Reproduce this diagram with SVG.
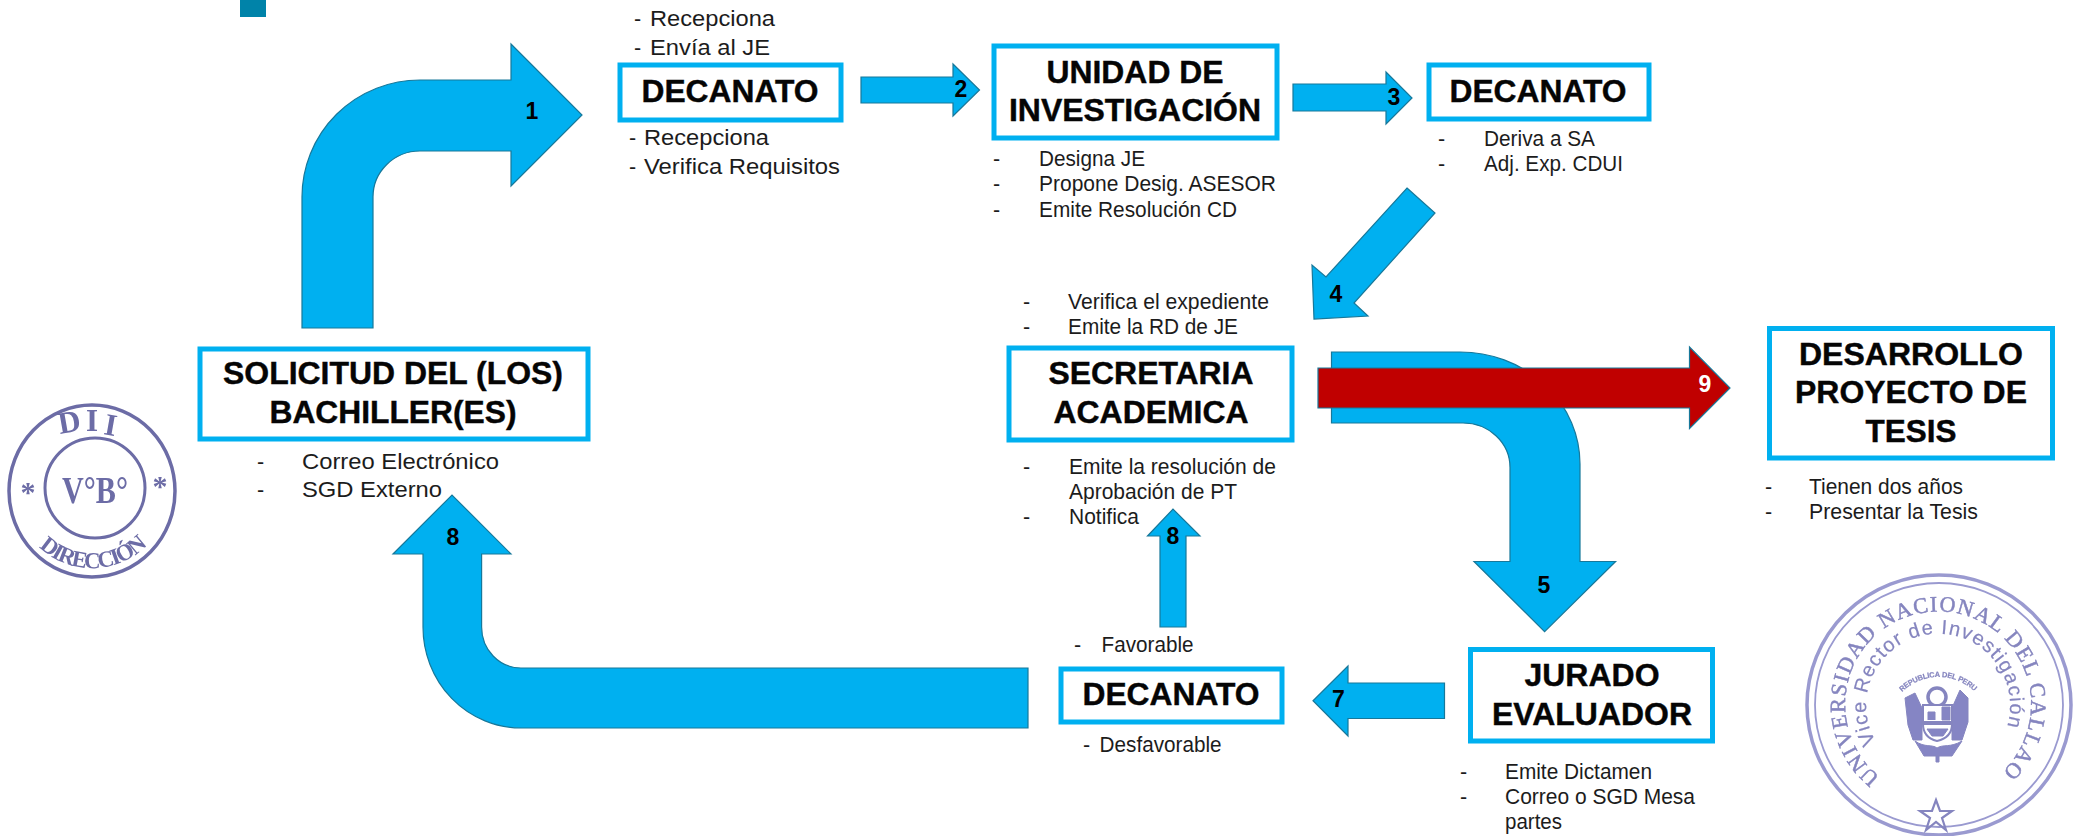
<svg xmlns="http://www.w3.org/2000/svg" width="2073" height="836" viewBox="0 0 2073 836">
<style>
text{font-family:"Liberation Sans",Arial,sans-serif;fill:#000}
.box{fill:#fff;stroke:#00B0F0;stroke-width:5}
.t{font-weight:700;font-size:31px;text-anchor:middle;fill:#050505;stroke:#050505;stroke-width:.4}
.s{font-size:21.5px;fill:#1c1c1c}
.n{font-weight:700;font-size:23px;text-anchor:middle}
.a{fill:#00B0F0;stroke:#17789a;stroke-width:1.2;stroke-linejoin:miter}
.r{fill:#C00000;stroke:#17789a;stroke-width:1.2}
.st1{fill:none;stroke:#6c6ca6}
.st1t{font-family:"Liberation Serif",serif;font-weight:700;fill:#6c6ca6}
.st2{fill:none;stroke:#9a9ad0}
.st2t{font-family:"Liberation Serif",serif;fill:#8585bf;stroke:#8585bf;stroke-width:.5}
.st2s{font-family:"Liberation Sans",sans-serif;fill:#8585bf;stroke:#8585bf;stroke-width:.2}
</style>
<defs>
<path id="arc-dir" d="M39 547A77 77 0 0 0 149 543"/>
<path id="arc-un" d="M1880 777A93 93 0 1 1 1995 778"/>
<path id="arc-vr" d="M1876 742A72 72 0 1 1 2003 737"/>
<path id="arc-rp" d="M1902 692A52 52 0 0 1 1973 690"/>
<filter id="soft" x="-5%" y="-5%" width="110%" height="110%"><feGaussianBlur stdDeviation="0.6"/></filter>
</defs>
<rect width="2073" height="836" fill="#fff"/>
<rect id="corner-square" x="240" y="0" width="26" height="17" fill="#0083A9"/>

<g id="connectors">
<path class="a" d="M302 328V197A118 117 0 0 1 420 80H511V44L582 115L511 186V151H420A47 46 0 0 0 373 197V328Z"/>
<path class="a" d="M861 77H953V64L979.500 90L953 116V103H861Z"/>
<path class="a" d="M1293 84H1386V72L1412 98L1386 124V111H1293Z"/>
<path class="a" d="M1407 188L1435 213L1354 303L1368 316L1314 319L1312 265L1326 277Z"/>
<path class="a" d="M1331.500 352H1460A120 112 0 0 1 1580 464V561.500H1615.600L1544.600 631.600L1474 561.500H1510V467.500A47 44.500 0 0 0 1463 423H1331.500Z"/>
<path class="r" d="M1318 368H1689.500V347L1730 388L1689.500 428.500V408H1318Z"/>
<path class="a" d="M1444.500 683H1348V666L1313 700.700L1348 736V718.500H1444.500Z"/>
<path class="a" d="M1186 627V536H1200L1173 509L1147.500 536H1160V627Z"/>
<path class="a" d="M1028 668H521A39.400 41 0 0 1 481.600 627V554H511L452 495L393 554H423V627A98 101 0 0 0 521 728H1028Z"/>
<text class="n" x="532" y="119">1</text>
<text class="n" x="961" y="97">2</text>
<text class="n" x="1394" y="105">3</text>
<text class="n" x="1336" y="302">4</text>
<text class="n" x="1544" y="593">5</text>
<text class="n" x="1338.500" y="707">7</text>
<text class="n" x="453" y="545">8</text>
<text class="n" x="1173" y="544">8</text>
<text class="n" x="1705" y="392" style="fill:#fff">9</text>
</g>

<g id="node-solicitud">
<rect class="box" x="200" y="349" width="388" height="90"/>
<text class="t" x="393" y="384" textLength="340" lengthAdjust="spacingAndGlyphs">SOLICITUD DEL (LOS)</text>
<text class="t" x="393" y="423" textLength="247" lengthAdjust="spacingAndGlyphs">BACHILLER(ES)</text>
<text class="s" x="257" y="469">-</text><text class="s" x="302" y="469" textLength="197" lengthAdjust="spacingAndGlyphs">Correo Electrónico</text>
<text class="s" x="257" y="497">-</text><text class="s" x="302" y="497" textLength="140" lengthAdjust="spacingAndGlyphs">SGD Externo</text>
</g>

<g id="node-decanato-1">
<rect class="box" x="620" y="65" width="221" height="55"/>
<text class="t" x="730" y="102" textLength="177" lengthAdjust="spacingAndGlyphs">DECANATO</text>
<text class="s" x="634" y="26">-</text><text class="s" x="650" y="26" textLength="125" lengthAdjust="spacingAndGlyphs">Recepciona</text>
<text class="s" x="634" y="55">-</text><text class="s" x="650" y="55" textLength="120" lengthAdjust="spacingAndGlyphs">Envía al JE</text>
<text class="s" x="629" y="145">-</text><text class="s" x="644" y="145" textLength="125" lengthAdjust="spacingAndGlyphs">Recepciona</text>
<text class="s" x="629" y="174">-</text><text class="s" x="644" y="174" textLength="196" lengthAdjust="spacingAndGlyphs">Verifica Requisitos</text>
</g>

<g id="node-unidad">
<rect class="box" x="994" y="46" width="283" height="92"/>
<text class="t" x="1135" y="83" textLength="177" lengthAdjust="spacingAndGlyphs">UNIDAD DE</text>
<text class="t" x="1135" y="121" textLength="252" lengthAdjust="spacingAndGlyphs">INVESTIGACIÓN</text>
<text class="s" x="993" y="166">-</text><text class="s" x="1039" y="166" textLength="106" lengthAdjust="spacingAndGlyphs">Designa JE</text>
<text class="s" x="993" y="191">-</text><text class="s" x="1039" y="191" textLength="237" lengthAdjust="spacingAndGlyphs">Propone Desig. ASESOR</text>
<text class="s" x="993" y="217">-</text><text class="s" x="1039" y="217" textLength="198" lengthAdjust="spacingAndGlyphs">Emite Resolución CD</text>
</g>

<g id="node-decanato-2">
<rect class="box" x="1429" y="65" width="220" height="54"/>
<text class="t" x="1538" y="102" textLength="177" lengthAdjust="spacingAndGlyphs">DECANATO</text>
<text class="s" x="1438" y="146">-</text><text class="s" x="1484" y="146" textLength="111" lengthAdjust="spacingAndGlyphs">Deriva a SA</text>
<text class="s" x="1438" y="171">-</text><text class="s" x="1484" y="171" textLength="139" lengthAdjust="spacingAndGlyphs">Adj. Exp. CDUI</text>
</g>

<g id="node-secretaria">
<rect class="box" x="1009" y="348" width="283" height="92"/>
<text class="t" x="1151" y="384" textLength="205" lengthAdjust="spacingAndGlyphs">SECRETARIA</text>
<text class="t" x="1151" y="423" textLength="195" lengthAdjust="spacingAndGlyphs">ACADEMICA</text>
<text class="s" x="1023" y="309">-</text><text class="s" x="1068" y="309" textLength="201" lengthAdjust="spacingAndGlyphs">Verifica el expediente</text>
<text class="s" x="1023" y="334">-</text><text class="s" x="1068" y="334" textLength="170" lengthAdjust="spacingAndGlyphs">Emite la RD de JE</text>
<text class="s" x="1023" y="474">-</text><text class="s" x="1069" y="474" textLength="207" lengthAdjust="spacingAndGlyphs">Emite la resolución de</text>
<text class="s" x="1069" y="499" textLength="168" lengthAdjust="spacingAndGlyphs">Aprobación de PT</text>
<text class="s" x="1023" y="524">-</text><text class="s" x="1069" y="524" textLength="70" lengthAdjust="spacingAndGlyphs">Notifica</text>
</g>

<g id="node-desarrollo">
<rect class="box" x="1769.500" y="328.500" width="283" height="129.500"/>
<text class="t" x="1911" y="365" textLength="224" lengthAdjust="spacingAndGlyphs">DESARROLLO</text>
<text class="t" x="1911" y="403" textLength="232" lengthAdjust="spacingAndGlyphs">PROYECTO DE</text>
<text class="t" x="1911" y="442" textLength="91" lengthAdjust="spacingAndGlyphs">TESIS</text>
<text class="s" x="1765" y="494">-</text><text class="s" x="1809" y="494" textLength="154" lengthAdjust="spacingAndGlyphs">Tienen dos años</text>
<text class="s" x="1765" y="519">-</text><text class="s" x="1809" y="519" textLength="169" lengthAdjust="spacingAndGlyphs">Presentar la Tesis</text>
</g>

<g id="node-jurado">
<rect class="box" x="1470.500" y="649.500" width="242" height="91.500"/>
<text class="t" x="1592" y="686" textLength="135" lengthAdjust="spacingAndGlyphs">JURADO</text>
<text class="t" x="1592" y="725" textLength="200" lengthAdjust="spacingAndGlyphs">EVALUADOR</text>
<text class="s" x="1460" y="779">-</text><text class="s" x="1505" y="779" textLength="147" lengthAdjust="spacingAndGlyphs">Emite Dictamen</text>
<text class="s" x="1460" y="804">-</text><text class="s" x="1505" y="804" textLength="190" lengthAdjust="spacingAndGlyphs">Correo o SGD Mesa</text>
<text class="s" x="1505" y="829" textLength="57" lengthAdjust="spacingAndGlyphs">partes</text>
</g>

<g id="node-decanato-3">
<rect class="box" x="1061" y="669" width="221" height="53"/>
<text class="t" x="1171" y="705" textLength="177" lengthAdjust="spacingAndGlyphs">DECANATO</text>
<text class="s" x="1074" y="652">-</text><text class="s" x="1101.500" y="652" textLength="92" lengthAdjust="spacingAndGlyphs">Favorable</text>
<text class="s" x="1083" y="752">-</text><text class="s" x="1099.600" y="752" textLength="122" lengthAdjust="spacingAndGlyphs">Desfavorable</text>
</g>

<g id="stamp-vobo" filter="url(#soft)">
<ellipse class="st1" cx="92" cy="491" rx="83" ry="86" stroke-width="3.500"/>
<circle class="st1" cx="95" cy="488" r="50" stroke-width="3"/>
<text class="st1t" font-size="31" x="60 86 103" y="434 431 434" rotate="-10 0 10">DII</text>
<text class="st1t" x="95" y="503" font-size="38" text-anchor="middle" textLength="66" lengthAdjust="spacingAndGlyphs">V°B°</text>
<text class="st1t" x="28" y="502" font-size="30" text-anchor="middle">*</text>
<text class="st1t" x="160" y="496" font-size="30" text-anchor="middle">*</text>
<text class="st1t" font-size="23"><textPath href="#arc-dir" textLength="120">DIRECCIÓN</textPath></text>
</g>

<g id="stamp-unac" filter="url(#soft)">
<ellipse class="st2" cx="1939" cy="705" rx="132" ry="130" stroke-width="3.500"/>
<ellipse class="st2" cx="1939" cy="705" rx="124" ry="122" stroke-width="1.800"/>
<text class="st2t" font-size="22"><textPath href="#arc-un" textLength="450">UNIVERSIDAD NACIONAL DEL CALLAO</textPath></text>
<text class="st2s" font-size="20"><textPath href="#arc-vr" textLength="285">Vice Rector de Investigación</textPath></text>
<text class="st2s" font-size="7.500" font-weight="700"><textPath href="#arc-rp" textLength="80">REPUBLICA DEL PERU</textPath></text>
<path d="M1936 800L1940 811H1952L1942 818L1946 830L1936 822L1926 830L1930 818L1920 811H1932Z" fill="none" stroke="#8585bf" stroke-width="2.200"/>
<g fill="#8585c4" stroke="#8585bf">
<path d="M1905 698L1915 693L1922 708V740H1913L1908 725Z"/>
<path d="M1960 690L1968 698V722L1962 740H1952V708Z"/>
<circle cx="1937" cy="697" r="9" fill="none" stroke-width="3.500"/>
<path d="M1923 705H1952V722H1923Z" fill="#fff" stroke-width="2"/>
<path d="M1928 720V712H1935V720M1942 707H1950V720H1942Z" stroke-width="1"/>
<path d="M1923 724H1952C1952 734 1946 739 1937 741C1929 739 1923 734 1923 724Z" fill="#fff" stroke-width="2"/>
<path d="M1927 729H1948L1943 736H1932Z" stroke-width="1"/>
<path d="M1915 741C1925 748 1932 744 1937 748C1943 744 1950 748 1962 741L1952 756H1924Z"/>
<path d="M1936 756h3v6h-3Z"/>
</g>
</g>
</svg>
